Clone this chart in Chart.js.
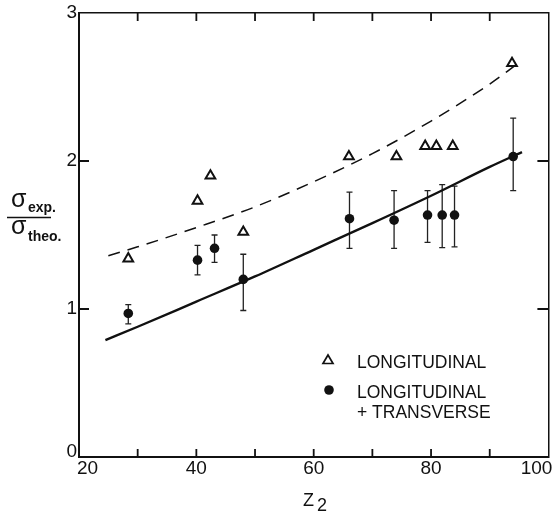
<!DOCTYPE html>
<html><head><meta charset="utf-8">
<script src="https://cdn.jsdelivr.net/npm/chart.js@4.4.1/dist/chart.umd.min.js"></script>
<style>html,body{margin:0;padding:0;background:#fff}canvas{display:block}</style>
</head><body>
<canvas id="c" width="556" height="514"></canvas>
<script>
// Longitudinal (open triangles)
const zLong = [28.4, 40.2, 42.4, 48.0, 66.0, 74.1, 79.0, 80.9, 83.7, 93.8];
const ratioLong = [1.34, 1.73, 1.90, 1.52, 2.03, 2.03, 2.10, 2.10, 2.10, 2.66];
// Longitudinal + transverse (filled circles, with error bars)
const zBoth = [28.4, 40.2, 43.1, 48.0, 66.1, 73.7, 79.4, 81.9, 84.0, 94.0];
const ratioBoth = [0.97, 1.33, 1.41, 1.20, 1.61, 1.60, 1.635, 1.635, 1.635, 2.03];
const errHigh = [1.03, 1.43, 1.50, 1.37, 1.79, 1.80, 1.80, 1.84, 1.83, 2.29];
const errLow = [0.90, 1.23, 1.315, 0.99, 1.41, 1.41, 1.45, 1.415, 1.42, 1.80];
// Theory curves
const solidZ = [24.5, 30, 40, 50, 60, 70, 80, 90, 95.5];
const solidR = [0.79, 0.88, 1.05, 1.22, 1.40, 1.58, 1.765, 1.96, 2.06];
const dashZ = [25, 30, 40, 50, 60, 70, 80, 90, 94.5];
const dashR = [1.36, 1.42, 1.55, 1.69, 1.86, 2.05, 2.27, 2.52, 2.65];
// Ticks
const xTickLabels = [20, 40, 60, 80, 100];
const xMinorTicks = [30, 40, 50, 60, 70, 80, 90];
const yTickLabels = [0, 1, 2, 3];
const yInnerTicks = [1, 2];
const legendLabels = ['LONGITUDINAL', 'LONGITUDINAL', '+ TRANSVERSE'];

const FONT = '"Liberation Sans", Arial, sans-serif';
const INK = '#111';

const pts = (xs, ys) => xs.map((v, i) => ({x: v, y: ys[i]}));

const decor = {
  id: 'decor',
  beforeDatasetsDraw(chart) {
    const {ctx, scales: {x, y}} = chart;
    ctx.save();
    ctx.strokeStyle = '#222';
    ctx.lineWidth = 1.3;
    zBoth.forEach((z, i) => {
      const px = x.getPixelForValue(z);
      const t = y.getPixelForValue(errHigh[i]);
      const b = y.getPixelForValue(errLow[i]);
      ctx.beginPath();
      ctx.moveTo(px, t); ctx.lineTo(px, b);
      ctx.moveTo(px - 3, t); ctx.lineTo(px + 3, t);
      ctx.moveTo(px - 3, b); ctx.lineTo(px + 3, b);
      ctx.stroke();
    });
    ctx.restore();
  },
  afterDraw(chart) {
    const {ctx, chartArea: a, scales: {x, y}} = chart;
    ctx.save();
    ctx.strokeStyle = INK;
    ctx.fillStyle = INK;
    ctx.lineWidth = 1.8;
    // inward ticks
    ctx.beginPath();
    xMinorTicks.forEach(v => {
      const px = x.getPixelForValue(v);
      ctx.moveTo(px, a.bottom); ctx.lineTo(px, a.bottom - 8);
      ctx.moveTo(px, a.top); ctx.lineTo(px, a.top + 8);
    });
    yInnerTicks.forEach(v => {
      const py = y.getPixelForValue(v);
      ctx.moveTo(a.left, py); ctx.lineTo(a.left + 10, py);
      ctx.moveTo(a.right, py); ctx.lineTo(a.right - 11, py);
    });
    ctx.stroke();

    // tick labels
    ctx.font = '19px ' + FONT;
    ctx.textBaseline = 'middle';
    xTickLabels.forEach((v, i) => {
      let px = x.getPixelForValue(v);
      if (i === 0) { ctx.textAlign = 'left'; px -= 2; }
      else if (i === xTickLabels.length - 1) { ctx.textAlign = 'right'; px += 4; }
      else ctx.textAlign = 'center';
      ctx.fillText(String(v), px, a.bottom + 12);
    });
    ctx.textAlign = 'right';
    yTickLabels.forEach(v => {
      let py = y.getPixelForValue(v);
      if (v === 0) py -= 5;
      ctx.fillText(String(v), a.left - 2, py);
    });

    // x title Z2
    ctx.textAlign = 'left';
    ctx.textBaseline = 'alphabetic';
    ctx.font = '18px ' + FONT;
    ctx.fillText('Z', 303, 506);
    ctx.fillText('2', 317, 511);

    // y title fraction
    ctx.font = '25px ' + FONT;
    ctx.fillText('\u03C3', 11, 207);
    ctx.fillText('\u03C3', 11, 234);
    ctx.font = 'bold 14px ' + FONT;
    ctx.fillText('exp.', 28, 212);
    ctx.fillText('theo.', 28, 241);
    ctx.lineWidth = 1.6;
    ctx.beginPath(); ctx.moveTo(7, 217.5); ctx.lineTo(51, 217.5); ctx.stroke();

    // legend
    const lx = 328;
    ctx.lineWidth = 1.7;
    ctx.beginPath();
    ctx.moveTo(lx, 355); ctx.lineTo(lx + 5, 363.5); ctx.lineTo(lx - 5, 363.5); ctx.closePath();
    ctx.fillStyle = '#fff'; ctx.fill(); ctx.stroke();
    ctx.fillStyle = INK;
    ctx.beginPath(); ctx.arc(lx + 1, 390, 4.8, 0, Math.PI * 2); ctx.fill();
    ctx.font = '17.5px ' + FONT;
    ctx.textBaseline = 'middle';
    ctx.fillText(legendLabels[0], 357, 363);
    ctx.fillText(legendLabels[1], 357, 393);
    ctx.fillText(legendLabels[2], 357, 413);
    ctx.restore();
  }
};

const axisCommon = {
  type: 'linear',
  grid: {display: false, drawTicks: false},
  ticks: {display: false},
  border: {display: true, color: INK, width: 2}
};

new Chart(document.getElementById('c'), {
  type: 'scatter',
  data: {
    datasets: [
      {label: 'theory L+T', data: pts(solidZ, solidR), showLine: true, pointRadius: 0,
       borderColor: INK, borderWidth: 2.4, cubicInterpolationMode: 'monotone', fill: false},
      {label: 'theory L', data: pts(dashZ, dashR), showLine: true, pointRadius: 0,
       borderColor: INK, borderWidth: 1.5, borderDash: [12, 8], cubicInterpolationMode: 'monotone', fill: false},
      {label: 'LONGITUDINAL', data: pts(zLong, ratioLong), pointStyle: 'triangle', pointRadius: 5.6,
       backgroundColor: '#fff', borderColor: INK, borderWidth: 2},
      {label: 'LONGITUDINAL + TRANSVERSE', data: pts(zBoth, ratioBoth), pointStyle: 'circle', pointRadius: 4.8,
       backgroundColor: INK, borderColor: INK, borderWidth: 0}
    ]
  },
  options: {
    responsive: false,
    animation: false,
    layout: {padding: {left: 79, right: 6, top: 13, bottom: 57}},
    plugins: {legend: {display: false}, tooltip: {enabled: false}},
    scales: {
      x: Object.assign({}, axisCommon, {position: 'bottom', min: 20, max: 100}),
      y: Object.assign({}, axisCommon, {position: 'left', min: 0, max: 3}),
      x2: Object.assign({}, axisCommon, {position: 'top', min: 20, max: 100, border: {display: true, color: INK, width: 1.5}}),
      y2: Object.assign({}, axisCommon, {position: 'right', min: 0, max: 3, border: {display: true, color: INK, width: 1.5}})
    }
  },
  plugins: [decor]
});
</script>
</body></html>
